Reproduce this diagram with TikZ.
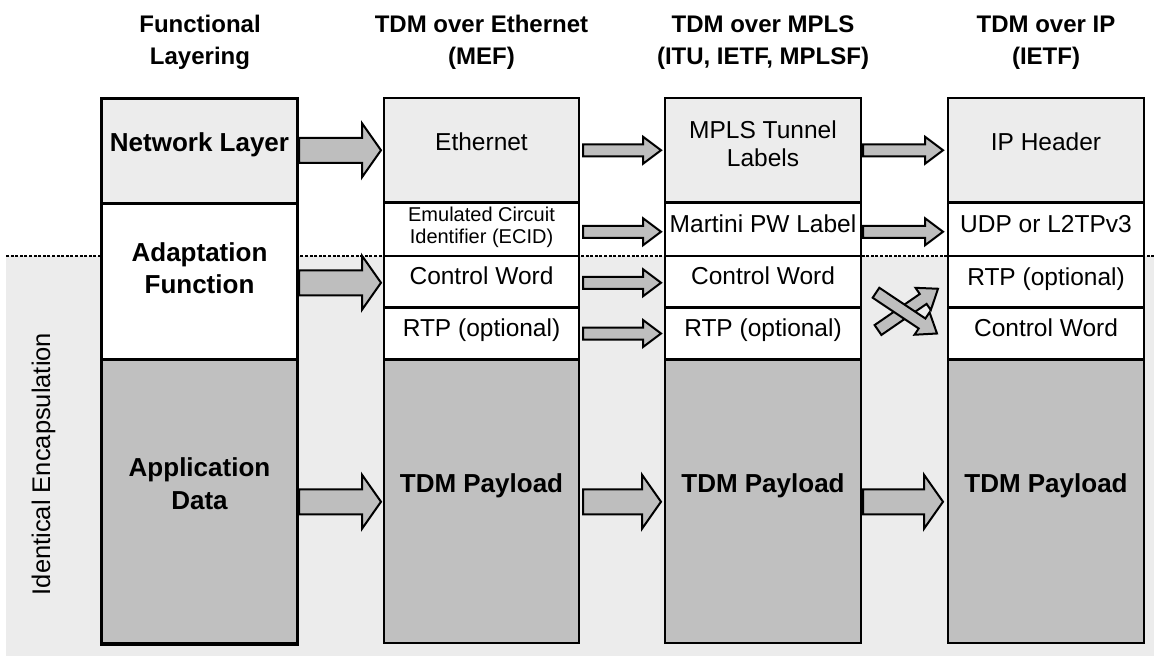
\documentclass[tikz,border=0pt]{standalone}
\usepackage{fontspec}
\setmainfont{Liberation Sans}
\usetikzlibrary{calc}
\definecolor{lightbg}{HTML}{ECECEC}
\definecolor{paygray}{HTML}{C0C0C0}
\definecolor{arrgray}{HTML}{BEBEBE}
\tikzset{
 cellbox/.style={draw=black, inner sep=0pt, outer sep=0pt, anchor=north west},
 arw/.style={draw=black, fill=arrgray, line width=2pt, line join=miter},
 dotline/.style={line width=2.4pt, dash pattern=on 3pt off 1.6pt},
 hdr/.style={anchor=base, inner sep=0pt, align=center, font=\bfseries\fontsize{24}{32}\selectfont},
 blbl/.style={anchor=base, inner sep=0pt, align=center, font=\bfseries\fontsize{26}{32}\selectfont},
 rlbl/.style={anchor=base, inner sep=0pt, align=center, font=\fontsize{24.5}{28}\selectfont},
 slbl/.style={anchor=base, inner sep=0pt, align=center, font=\fontsize{20}{22}\selectfont},
}
% cell: name, x1, y1, x2, y2, fill, line width
\newcommand\cellnode[7]{%
 \node[cellbox, fill=#6, line width=#7, minimum width={#4-#2}, minimum height={#5-#3}] (#1) at (#2,#3) {};}
% block arrow: from, to, shaft half, head half, head length
\newcommand\barrow[5]{%
 \coordinate (ba-s) at #1;
 \coordinate (ba-t) at #2;
 \coordinate (ba-c) at ($(ba-t)!#5!(ba-s)$);
 \draw[arw] ($(ba-s)!#3!90:(ba-t)$) -- ($(ba-c)!#3!90:(ba-t)$) -- ($(ba-c)!#4!90:(ba-t)$) -- (ba-t)
   -- ($(ba-c)!#4!-90:(ba-t)$) -- ($(ba-c)!#3!-90:(ba-t)$) -- ($(ba-s)!#3!-90:(ba-t)$) -- cycle;}
\newcommand\bigarrow[2]{\barrow{#1}{#2}{12.5pt}{27pt}{19pt}}
\newcommand\smallarrow[2]{\barrow{#1}{#2}{6pt}{13.5pt}{18pt}}
\begin{document}
\begin{tikzpicture}[x=1pt,y=-1pt]
\useasboundingbox (0,0) rectangle (1154,656);
\fill[white] (0,0) rectangle (1154,656);
\fill[lightbg] (6,256) rectangle (1154,656);
\coordinate (dl) at (6,256);
\coordinate (dr) at (1154,256);
\draw[dotline] (dl) -- (dr);

% headers (anchor base = baseline of the last line)
\node[hdr] (h1) at (200,64) {Functional\\Layering};
\node[hdr] (h2) at (481.5,64) {TDM over Ethernet\\(MEF)};
\node[hdr] (h3) at (763,64) {TDM over MPLS\\(ITU, IETF, MPLSF)};
\node[hdr] (h4) at (1046,64) {TDM over IP\\(IETF)};

% column 1
\cellnode{nl}{101.5}{98.5}{297.5}{203.5}{lightbg}{3.2pt}
\cellnode{af}{101.5}{203.5}{297.5}{359.5}{white}{3.2pt}
\cellnode{ad}{101.5}{359.5}{297.5}{644}{paygray}{3.2pt}
% column 2
\cellnode{eth}{384}{98}{579}{202.5}{lightbg}{2.2pt}
\cellnode{ecid}{384}{202.5}{579}{256}{white}{2.2pt}
\cellnode{cw2}{384}{256}{579}{307.5}{white}{2.2pt}
\cellnode{rtp2}{384}{307.5}{579}{359.5}{white}{2.2pt}
\cellnode{pay2}{384}{359.5}{579}{643}{paygray}{2.2pt}
% column 3
\cellnode{mpls}{665}{98}{861}{202.5}{lightbg}{2.2pt}
\cellnode{mart}{665}{202.5}{861}{256}{white}{2.2pt}
\cellnode{cw3}{665}{256}{861}{307.5}{white}{2.2pt}
\cellnode{rtp3}{665}{307.5}{861}{359.5}{white}{2.2pt}
\cellnode{pay3}{665}{359.5}{861}{643}{paygray}{2.2pt}
% column 4
\cellnode{iph}{948}{98}{1144}{202.5}{lightbg}{2.2pt}
\cellnode{udp}{948}{202.5}{1144}{256}{white}{2.2pt}
\cellnode{rtp4}{948}{256}{1144}{307.5}{white}{2.2pt}
\cellnode{cw4}{948}{307.5}{1144}{359.5}{white}{2.2pt}
\cellnode{pay4}{948}{359.5}{1144}{643}{paygray}{2.2pt}

% texts
\node[blbl] (t-nl) at (199.5,151) {Network Layer};
\node[blbl] (t-af) at (199.5,293) {Adaptation\\Function};
\node[blbl, font=\bfseries\fontsize{26}{33}\selectfont] (t-ad) at (199.5,509) {Application\\Data};

\node[rlbl] (t-eth) at (481.5,150) {Ethernet};
\node[slbl] (t-ecid) at (481.5,243) {Emulated Circuit\\Identifier (ECID)};
\node[rlbl] (t-cw2) at (481.5,284) {Control Word};
\node[rlbl] (t-rtp2) at (481.5,336) {RTP (optional)};
\node[blbl] (t-pay2) at (481.5,492) {TDM Payload};

\node[rlbl] (t-mpls) at (763,166) {MPLS Tunnel\\Labels};
\node[rlbl] (t-mart) at (763,232) {Martini PW Label};
\node[rlbl] (t-cw3) at (763,284) {Control Word};
\node[rlbl] (t-rtp3) at (763,336) {RTP (optional)};
\node[blbl] (t-pay3) at (763,492) {TDM Payload};

\node[rlbl] (t-iph) at (1046,150) {IP Header};
\node[rlbl] (t-udp) at (1046,232) {UDP or L2TPv3};
\node[rlbl] (t-rtp4) at (1046,285) {RTP (optional)};
\node[rlbl] (t-cw4) at (1046,336) {Control Word};
\node[blbl] (t-pay4) at (1046,492) {TDM Payload};

\node[anchor=base, inner sep=0pt, rotate=90, font=\fontsize{25.5}{28}\selectfont] (t-ie) at (50,464) {Identical Encapsulation};

% arrows column 1 -> 2
\bigarrow{($(nl.east |- eth.west)+(1.5,0)$)}{($(eth.west)+(-3,0)$)}
\bigarrow{($(af.east |- cw2.west)+(1.5,1)$)}{($(cw2.west)+(-3,1)$)}
\bigarrow{($(ad.east |- pay2.west)+(1.5,0.5)$)}{($(pay2.west)+(-3,0.5)$)}
% column 2 -> 3
\smallarrow{($(eth.east)+(4,0)$)}{($(mpls.west)+(-4,0)$)}
\smallarrow{($(ecid.east)+(4,2.5)$)}{($(mart.west)+(-4,2.5)$)}
\smallarrow{($(cw2.east)+(4,1)$)}{($(cw3.west)+(-4,1)$)}
\smallarrow{($(rtp2.east)+(4,0)$)}{($(rtp3.west)+(-4,0)$)}
\bigarrow{($(pay2.east)+(4,0.5)$)}{($(pay3.west)+(-4,0.5)$)}
% column 3 -> 4
\smallarrow{($(mpls.east)+(2,0)$)}{($(iph.west)+(-5,0)$)}
\smallarrow{($(mart.east)+(2,2.5)$)}{($(udp.west)+(-5,2.5)$)}
\smallarrow{($(rtp3.east)+(17,-3.5)$)}{($(rtp4.west)+(-10,7)$)}
\smallarrow{($(cw3.east)+(15,11)$)}{($(cw4.west)+(-11,0)$)}
\bigarrow{($(pay3.east)+(2,0.5)$)}{($(pay4.west)+(-5,0.5)$)}
\end{tikzpicture}
\end{document}
